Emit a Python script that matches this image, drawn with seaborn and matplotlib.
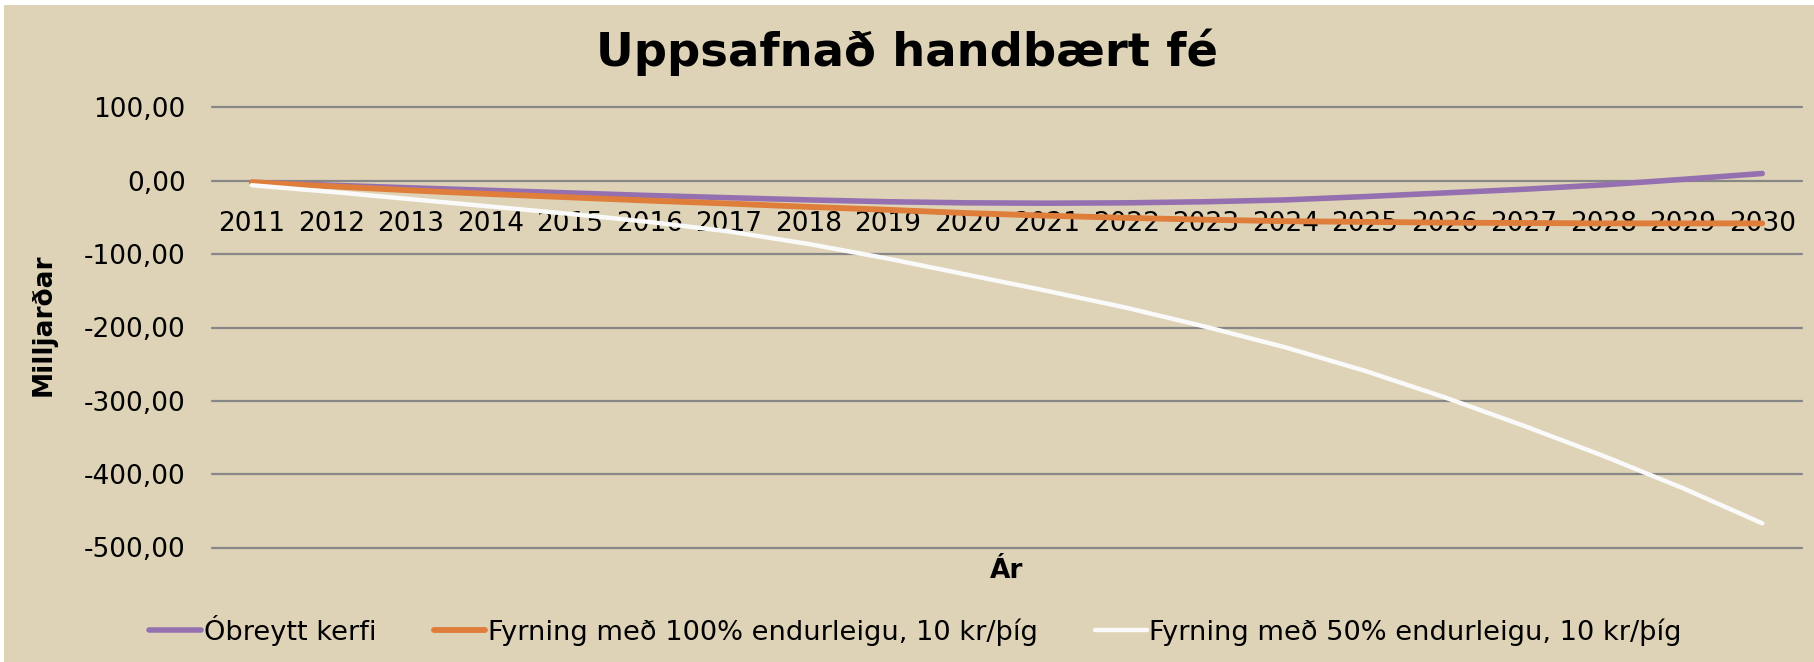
import numpy as np
import pandas as pd
import matplotlib
matplotlib.use("Agg")
import matplotlib.pyplot as plt
import seaborn as sns
from matplotlib.ticker import FuncFormatter
from matplotlib.patches import Rectangle

# Data (milljarðar)
years = list(range(2011, 2031))
obreytt = [-2, -6, -9.5, -13, -16.5, -20, -23, -26, -28.5, -30,
           -30.5, -30, -28.5, -26, -21.5, -16.5, -11.5, -5.5, 2, 10]
fyrning_100 = [-2, -7.5, -13, -18, -22.5, -27, -31, -35.5, -39.5, -44,
               -47.5, -50.5, -53, -55, -56, -57, -57.5, -58, -58, -58]
fyrning_50 = [-6, -15, -25, -35, -45, -56, -69, -86, -106, -128,
              -150, -173, -199, -227, -259, -295, -334, -375, -419, -467]
series_names = ["Óbreytt kerfi",
                "Fyrning með 100% endurleigu, 10 kr/þíg",
                "Fyrning með 50% endurleigu, 10 kr/þíg"]
yticks = [100, 0, -100, -200, -300, -400, -500]

BG = "#DED3B7"
colors = ["#9570B0", "#DF7D3B", "#FAFAFA"]
widths = [4.0, 4.2, 3.2]

sns.set_style("white")
plt.rcParams['font.family'] = ['DejaVu Sans']
plt.rcParams['text.color'] = 'black'
plt.rcParams['axes.labelcolor'] = 'black'

df = pd.DataFrame({"Ár": years * 3,
                   "value": obreytt + fyrning_100 + fyrning_50,
                   "series": [s for s in series_names for _ in years]})

fig = plt.figure(figsize=(18.15, 6.62), dpi=100, facecolor="white")
# chart area background with thin white border top/left like the original
fig.patches.append(Rectangle((4 / 1815, 0), 1, 1 - 5 / 662, transform=fig.transFigure,
                             facecolor=BG, edgecolor="none", zorder=-10))
ax = fig.add_axes([212 / 1815, 1 - 547.5 / 662, 1590 / 1815, 440 / 662])
ax.set_facecolor(BG)

for name, col, lw in zip(series_names, colors, widths):
    sns.lineplot(data=df[df["series"] == name], x="Ár", y="value", color=col,
                 linewidth=lw, label=name, ax=ax, solid_capstyle="round")

ax.set_xlim(2010.5, 2030.5)
ax.set_ylim(-500, 100)
ax.set_yticks(yticks)
ax.yaxis.set_major_formatter(FuncFormatter(lambda v, p: f"{v:.2f}".replace(".", ",")))
ax.set_xticks(years)
ax.set_xticklabels([str(y) for y in years])

# category axis crosses at zero, like Excel
for s in ["left", "right", "top"]:
    ax.spines[s].set_visible(False)
ax.spines["bottom"].set_position(("data", 0))
ax.spines["bottom"].set_visible(False)
ax.tick_params(axis="x", length=0, pad=22, labelsize=19, colors="black")
ax.tick_params(axis="y", length=0, pad=19, labelsize=19, colors="black")

ax.grid(axis="y", color="#878787", linewidth=1.6)
ax.grid(axis="x", visible=False)
ax.set_axisbelow(True)
for gl in ax.get_ygridlines():
    gl.set_clip_on(False)

ax.set_xlabel("Ár", fontsize=19, fontweight="bold")
ax.xaxis.label.set_va("center")
ax.xaxis.set_label_coords(0.5, -0.053)
ax.set_ylabel("Milljarðar", fontsize=19, fontweight="bold")
ax.yaxis.label.set_va("center")
ax.yaxis.set_label_coords(-0.1057, 0.506)

fig.suptitle("Uppsafnað handbært fé", fontsize=33.5, fontweight="bold",
             x=0.5, y=1 - 52 / 662, va="center")

handles, labels = ax.get_legend_handles_labels()
ax.get_legend().remove()
fig.legend(handles, labels, loc="center", bbox_to_anchor=(0.5045, 0.048), ncol=3,
           frameon=False, fontsize=19.6, handlelength=1.9, handletextpad=0.1,
           columnspacing=2.1)

fig.savefig("out.png", dpi=100, facecolor=fig.get_facecolor())
